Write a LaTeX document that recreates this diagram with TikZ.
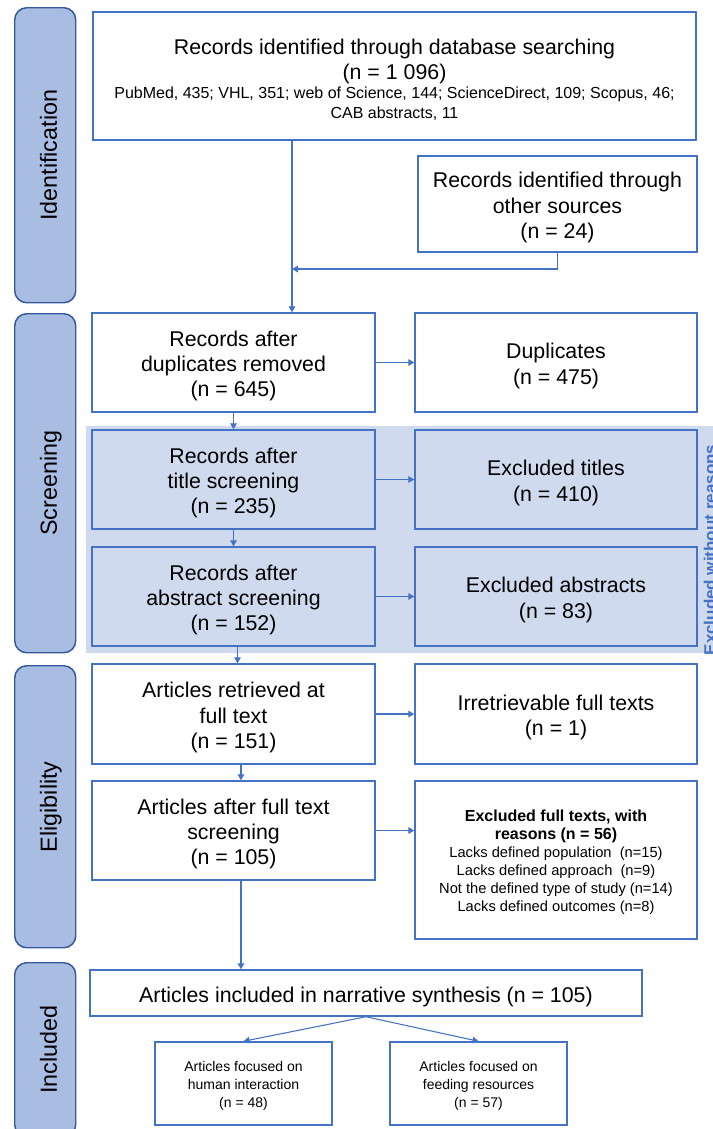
\documentclass[tikz,border=0pt]{standalone}
\usepackage{fontspec}
\setmainfont{Liberation Sans}
\usetikzlibrary{arrows.meta}
\definecolor{bblue}{HTML}{4472C4}
\definecolor{lblue}{HTML}{A9BDE3}
\definecolor{dblue}{HTML}{34589A}
\definecolor{bandc}{HTML}{CFDAEF}
\newcommand{\dn}{\rule{0pt}{17pt}}
\newcommand{\dns}{\rule{0pt}{11.3pt}}
\newcommand{\dnb}{\rule{0pt}{12.5pt}}
\begin{document}
\begin{tikzpicture}[x=0.75pt,y=-0.75pt,
  box/.style={draw=bblue, line width=1.1pt, fill=white, inner sep=0pt, align=center,
    font=\fontsize{16}{19}\selectfont},
  sz/.style 2 args={minimum width=#1*0.75pt, minimum height=#2*0.75pt},
  lab/.style={draw=dblue, fill=lblue, line width=1.1pt, rounded corners=9pt, inner sep=0pt},
  labtxt/.style={rotate=90, inner sep=0pt, text height=12.5pt, text depth=0pt,
    font=\fontsize{17.5}{21}\selectfont},
  arr/.style={draw=bblue, line width=0.8pt, -{Triangle[length=4.5pt,width=5pt]}}]

\useasboundingbox (0,0) rectangle (713,1129);

% band of records excluded without reasons
\fill[bandc] (86,426) rectangle (713,653);
\node[rotate=90, anchor=base, inner sep=0pt, text=bblue,
  font=\fontsize{12.75}{15}\selectfont\bfseries] (exw) at (716,550) {Excluded without reasons};

% side labels
\node[lab, sz={61}{295}, anchor=north west] (lid) at (14,7) {};
\node[labtxt] (tid) at ([xshift=2.4pt]lid.center) {Identification};
\node[lab, sz={61}{339}, anchor=north west] (lsc) at (14,313) {};
\node[labtxt] (tsc) at ([xshift=2.4pt]lsc.center) {Screening};
\node[lab, sz={61}{282}, anchor=north west] (lel) at (14,665) {};
\node[labtxt] (tel) at ([xshift=2.4pt]lel.center) {Eligibility};
\node[lab, sz={61}{174}, anchor=north west] (lin) at (14,962) {};
\node[labtxt] (tin) at ([xshift=2.4pt]lin.center) {Included};

% identification
\node[box, sz={603}{128}, text width=595*0.75pt] (top) at (394.5,76)
  {\centering\spaceskip=0pt\xspaceskip=0pt
   \dn Records identified through database searching\par (n = 1 096)\par
   {\fontsize{12}{14.6}\selectfont PubMed, 435; VHL, 351; web of Science, 144; ScienceDirect, 109; Scopus, 46;\par CAB abstracts, 11\par}};
\node[box, sz={279}{96}] (oth) at (557.5,204)
  {\dn Records identified through\\other sources\\(n = 24)};

% screening
\node[box, sz={283}{99}] (dup) at (233.5,362.5) {\dn Records after\\duplicates removed\\(n = 645)};
\node[box, sz={282}{99}] (dupr) at (556,362.5) {\dn Duplicates\\(n = 475)};
\node[box, sz={283}{99}, fill=bandc] (tit) at (233.5,479.5) {\dn Records after\\title screening\\(n = 235)};
\node[box, sz={282}{99}, fill=bandc] (titr) at (556,479.5) {\dn Excluded titles\\(n = 410)};
\node[box, sz={283}{99}, fill=bandc] (abs) at (233.5,596.5) {\dn Records after\\abstract screening\\(n = 152)};
\node[box, sz={282}{99}, fill=bandc] (absr) at (556,596.5) {\dn Excluded abstracts\\(n = 83)};

% eligibility
\node[box, sz={283}{100}] (ret) at (233.5,714) {\dn Articles retrieved at\\full text\\(n = 151)};
\node[box, sz={282}{100}] (irr) at (556,714) {\dn Irretrievable full texts\\(n = 1)};
\node[box, sz={283}{99}] (aft) at (233.5,830.5) {\dn Articles after full text\\screening\\(n = 105)};
\node[box, sz={282}{158}, text width=272*0.75pt, font=\fontsize{12}{13.5}\selectfont] (exc) at (556,860)
  {\centering\spaceskip=0pt\xspaceskip=0pt
   {\bfseries\dnb Excluded full texts, with\par reasons (n = 56)\par}
   {\fontsize{11}{13.5}\selectfont Lacks defined population~~(n=15)\par
    Lacks defined approach~~(n=9)\par
    Not the defined type of study (n=14)\par
    Lacks defined outcomes (n=8)\par}};

% included
\node[box, sz={552}{46}] (nar) at (366,993) {\dn Articles included in narrative synthesis (n = 105)};
\node[box, sz={177}{83}, font=\fontsize{10.5}{13.5}\selectfont] (hum) at (243.5,1083.5)
  {\dns Articles focused on\\human interaction\\(n = 48)};
\node[box, sz={177}{83}, font=\fontsize{10.5}{13.5}\selectfont] (fee) at (478.5,1083.5)
  {\dns Articles focused on\\feeding resources\\(n = 57)};

% connectors
\coordinate (m) at (292,0);
\coordinate (j) at (292,269);
\draw[arr] (top.south -| m) -- (dup.north -| m);
\draw[arr] (oth.south) |- (j);
\draw[arr] (dup.east) -- (dupr.west |- dup.east);
\draw[arr] (dup.south) -- (tit.north);
\draw[arr] (tit.east) -- (titr.west |- tit.east);
\draw[arr] (tit.south) -- (abs.north);
\draw[arr] (abs.east) -- (absr.west |- abs.east);
\draw[arr] ([xshift=3pt]abs.south) -- ([xshift=3pt]ret.north);
\draw[arr] (ret.east) -- (irr.west |- ret.east);
\draw[arr] ([xshift=5.6pt]ret.south) -- ([xshift=5.6pt]aft.north);
\draw[arr] (aft.east) -- (exc.west |- aft.east);
\draw[arr] ([xshift=5.6pt]aft.south) -- ([xshift=5.6pt]aft.south |- nar.north);
\draw[arr] (nar.south) -- (hum.north);
\draw[arr] (nar.south) -- (fee.north);
\end{tikzpicture}
\end{document}
